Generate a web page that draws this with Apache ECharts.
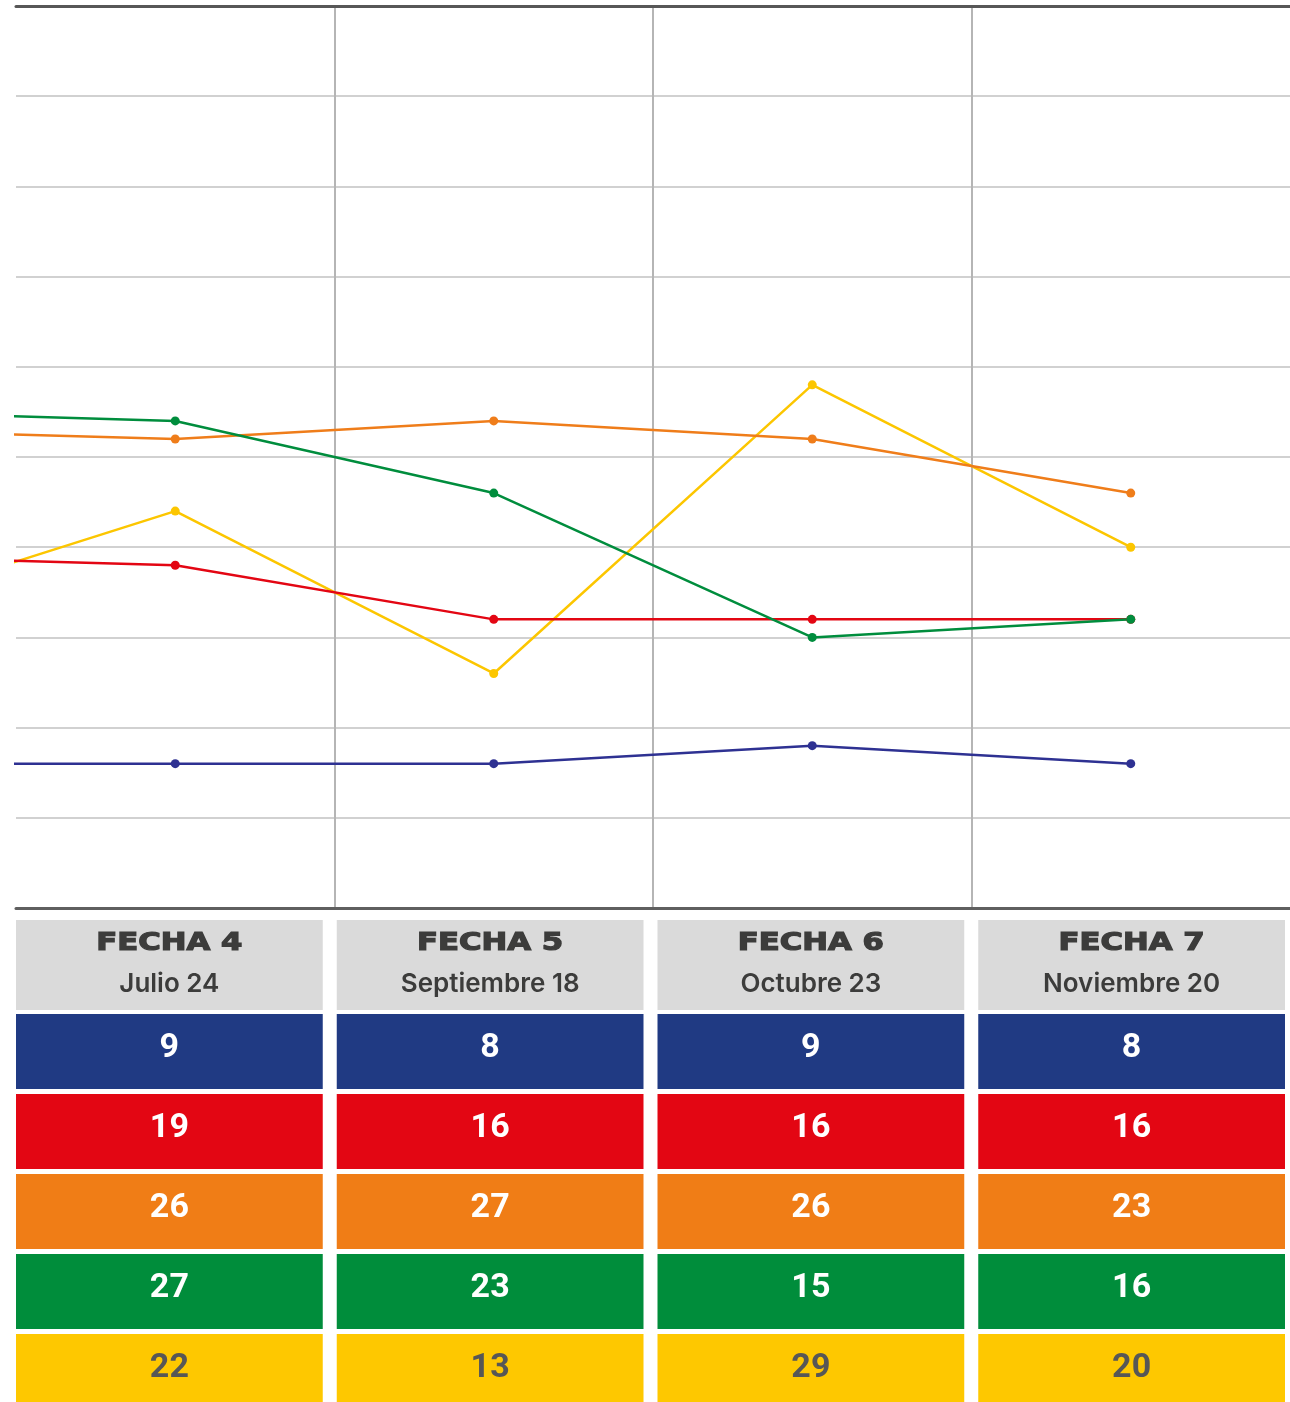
<!DOCTYPE html>
<html><head><meta charset="utf-8">
<script src="https://cdn.jsdelivr.net/npm/echarts@6/dist/echarts.min.js"></script>
<style>html,body{margin:0;padding:0;background:#fff}#c{width:1290px;height:1402px}</style>
</head><body><div id="c"></div>
<script>
// ---- data ----
const fechas = ['FECHA 4', 'FECHA 5', 'FECHA 6', 'FECHA 7'];
const fechaDates = ['Julio 24', 'Septiembre 18', 'Octubre 23', 'Noviembre 20'];
// x positions: previous date (only its segment is visible at the left edge), then Fecha 4..7
const lineX = [-0.5, 0.5, 1.5, 2.5, 3.5];
const lineBlue   = [8, 8, 8, 9, 8];
const lineRed    = [19.5, 19, 16, 16, 16];
const lineOrange = [26.5, 26, 27, 26, 23];
const lineGreen  = [27.5, 27, 23, 15, 16];
const lineYellow = [16.4, 22, 13, 29, 20];
// table values
const tableBlue   = [9, 8, 9, 8];
const tableRed    = [19, 16, 16, 16];
const tableOrange = [26, 27, 26, 23];
const tableGreen  = [27, 23, 15, 16];
const tableYellow = [22, 13, 29, 20];
const yMin = 0, yMax = 50, yStep = 5;

// ---- styles ----
const lineColors = { blue: '#2e3192', red: '#e30613', orange: '#ef7d1a', green: '#008d3d', yellow: '#fcc600' };
const cellColors = ['#203a83', '#e30613', '#f07d16', '#008d3b', '#fec800'];
const cellText = ['#ffffff', '#ffffff', '#ffffff', '#ffffff', '#575756'];

function pts(arr) { return arr.map((v, i) => [lineX[i], v]); }
function lineSeries(name, arr, color) {
  return {
    type: 'line', name, data: pts(arr), xAxisIndex: 0, yAxisIndex: 0,
    symbol: 'circle', symbolSize: 9, clip: true,
    lineStyle: { color, width: 2.5 }, itemStyle: { color }
  };
}

const tableRows = [tableBlue, tableRed, tableOrange, tableGreen, tableYellow];
const bodyData = [];
tableRows.forEach((row, r) => row.forEach((v, c) => bodyData.push([c, r, v])));
const headData = fechas.map((f, c) => [c, 0, c]);

const chart = echarts.init(document.getElementById('c'), null, { renderer: 'canvas' });
chart.setOption({
  animation: false,
  backgroundColor: '#ffffff',
  grid: [
    { left: 16, right: 0, top: 6, height: 902, outerBoundsMode: 'none', containLabel: false },
    { left: 9, width: 1283, top: 920, height: 90, outerBoundsMode: 'none', containLabel: false },
    { left: 9, width: 1283, top: 1011.5, height: 400, outerBoundsMode: 'none', containLabel: false }
  ],
  xAxis: [
    { type: 'value', gridIndex: 0, min: 0, max: 4, interval: 1, position: 'bottom',
      axisLine: { show: true, onZero: false, lineStyle: { color: '#5f5f5f', width: 3 } },
      axisTick: { show: false }, axisLabel: { show: false },
      splitLine: { show: true, showMinLine: false, showMaxLine: false, lineStyle: { color: '#b5b5b5', width: 2 } } },
    { type: 'value', gridIndex: 0, min: 0, max: 4, interval: 1, position: 'top',
      axisLine: { show: true, onZero: false, lineStyle: { color: '#575757', width: 3 } },
      axisTick: { show: false }, axisLabel: { show: false }, splitLine: { show: false } },
    { type: 'category', gridIndex: 1, data: fechas, show: false },
    { type: 'category', gridIndex: 2, data: fechas, show: false }
  ],
  yAxis: [
    { type: 'value', gridIndex: 0, min: yMin, max: yMax, interval: yStep,
      axisLine: { show: false }, axisTick: { show: false }, axisLabel: { show: false },
      splitLine: { show: true, showMinLine: false, showMaxLine: false, lineStyle: { color: '#c2c2c2', width: 1.5 } } },
    { type: 'category', gridIndex: 1, data: ['h'], show: false },
    { type: 'category', gridIndex: 2, data: ['blue', 'red', 'orange', 'green', 'yellow'], inverse: true, show: false }
  ],
  series: [
    lineSeries('blue', lineBlue, lineColors.blue),
    lineSeries('yellow', lineYellow, lineColors.yellow),
    lineSeries('orange', lineOrange, lineColors.orange),
    lineSeries('red', lineRed, lineColors.red),
    lineSeries('green', lineGreen, lineColors.green),
    {
      type: 'custom', xAxisIndex: 2, yAxisIndex: 1, data: headData, clip: false,
      renderItem: function (params, api) {
        const c = api.coord([api.value(0), api.value(1)]);
        const s = api.size([1, 1]);
        const w = s[0] - 14, h = s[1];
        const i = api.value(2);
        return { type: 'group', children: [
          { type: 'rect', shape: { x: c[0] - w / 2, y: c[1] - h / 2, width: w, height: h }, style: { fill: '#dadada' } },
          { type: 'text', x: c[0], y: c[1] - 21, scaleX: 1.28,
            style: { text: fechas[i], x: 0, y: 0, align: 'center', verticalAlign: 'middle', fill: '#3c3c3b',
              stroke: '#3c3c3b', lineWidth: 1.2,
              fontFamily: 'DejaVu Sans', fontWeight: 'bold', fontSize: 24 } },
          { type: 'text', x: c[0], y: c[1] + 19,
            style: { text: fechaDates[i], x: 0, y: 0, align: 'center', verticalAlign: 'middle', fill: '#3c3c3b',
              fontFamily: 'Inter', fontWeight: 600, fontSize: 26 } }
        ] };
      }
    },
    {
      type: 'custom', xAxisIndex: 3, yAxisIndex: 2, data: bodyData, clip: false,
      renderItem: function (params, api) {
        const c = api.coord([api.value(0), api.value(1)]);
        const s = api.size([1, 1]);
        const w = s[0] - 14, h = 75;
        const r = api.value(1);
        return { type: 'group', children: [
          { type: 'rect', shape: { x: c[0] - w / 2, y: c[1] - h / 2, width: w, height: h }, style: { fill: cellColors[r] } },
          { type: 'text', x: c[0], y: c[1] - 3,
            style: { text: String(api.value(2)), x: 0, y: 0, align: 'center', verticalAlign: 'middle', fill: cellText[r],
              fontFamily: 'Roboto', fontWeight: 'bold', fontSize: 34 } }
        ] };
      }
    }
  ]
});
</script></body></html>
